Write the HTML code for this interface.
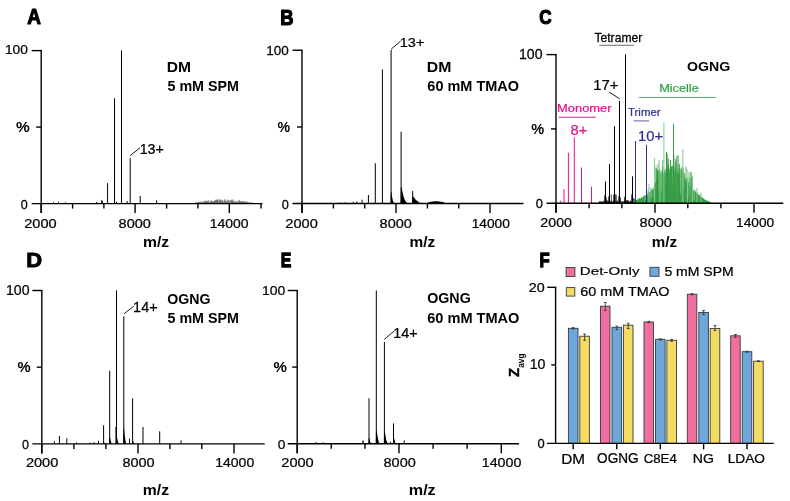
<!DOCTYPE html>
<html><head><meta charset="utf-8"><style>html,body{margin:0;padding:0;background:#fff;overflow:hidden}svg{display:block;will-change:transform}text{font-family:"Liberation Sans",sans-serif}</style></head>
<body><svg width="790" height="501" viewBox="0 0 790 501" font-family='"Liberation Sans", sans-serif'>
<rect width="790" height="501" fill="#fff"/>
<line x1="96.60" y1="202.00" x2="96.60" y2="203.60" stroke="#000" stroke-width="1.0" opacity="1"/>
<line x1="101.80" y1="199.90" x2="101.80" y2="203.60" stroke="#000" stroke-width="1.0" opacity="1"/>
<line x1="107.60" y1="183.10" x2="107.60" y2="203.60" stroke="#000" stroke-width="1.0" opacity="1"/>
<line x1="114.50" y1="98.30" x2="114.50" y2="203.60" stroke="#000" stroke-width="1.0" opacity="1"/>
<line x1="116.50" y1="201.70" x2="116.50" y2="203.60" stroke="#000" stroke-width="1.0" opacity="1"/>
<line x1="121.50" y1="50.40" x2="121.50" y2="203.60" stroke="#000" stroke-width="1.0" opacity="1"/>
<line x1="127.10" y1="201.10" x2="127.10" y2="203.60" stroke="#000" stroke-width="1.0" opacity="1"/>
<line x1="130.20" y1="158.30" x2="130.20" y2="203.60" stroke="#000" stroke-width="1.0" opacity="1"/>
<line x1="140.20" y1="196.00" x2="140.20" y2="203.60" stroke="#000" stroke-width="1.0" opacity="1"/>
<line x1="156.60" y1="200.40" x2="156.60" y2="203.60" stroke="#000" stroke-width="1.0" opacity="1"/>
<line x1="53.50" y1="202.20" x2="53.50" y2="203.60" stroke="#000" stroke-width="1.0" opacity="1"/>
<line x1="58.60" y1="201.80" x2="58.60" y2="203.60" stroke="#000" stroke-width="1.0" opacity="1"/>
<line x1="65.50" y1="202.30" x2="65.50" y2="203.60" stroke="#000" stroke-width="1.0" opacity="1"/>
<line x1="102.30" y1="201.00" x2="102.30" y2="203.60" stroke="#000" stroke-width="1.0" opacity="1"/>
<line x1="195.20" y1="202.22" x2="195.20" y2="203.60" stroke="#333" stroke-width="0.5" opacity="1"/>
<line x1="196.24" y1="202.18" x2="196.24" y2="203.60" stroke="#333" stroke-width="0.5" opacity="1"/>
<line x1="196.76" y1="202.38" x2="196.76" y2="203.60" stroke="#333" stroke-width="0.5" opacity="1"/>
<line x1="197.28" y1="202.20" x2="197.28" y2="203.60" stroke="#333" stroke-width="0.5" opacity="1"/>
<line x1="198.32" y1="202.09" x2="198.32" y2="203.60" stroke="#333" stroke-width="0.5" opacity="1"/>
<line x1="198.84" y1="201.78" x2="198.84" y2="203.60" stroke="#333" stroke-width="0.5" opacity="1"/>
<line x1="199.36" y1="202.10" x2="199.36" y2="203.60" stroke="#333" stroke-width="0.5" opacity="1"/>
<line x1="199.88" y1="201.79" x2="199.88" y2="203.60" stroke="#333" stroke-width="0.5" opacity="1"/>
<line x1="200.40" y1="201.81" x2="200.40" y2="203.60" stroke="#333" stroke-width="0.5" opacity="1"/>
<line x1="201.44" y1="201.57" x2="201.44" y2="203.60" stroke="#333" stroke-width="0.5" opacity="1"/>
<line x1="201.96" y1="201.75" x2="201.96" y2="203.60" stroke="#333" stroke-width="0.5" opacity="1"/>
<line x1="202.48" y1="202.14" x2="202.48" y2="203.60" stroke="#333" stroke-width="0.5" opacity="1"/>
<line x1="203.52" y1="201.13" x2="203.52" y2="203.60" stroke="#333" stroke-width="0.5" opacity="1"/>
<line x1="204.04" y1="201.75" x2="204.04" y2="203.60" stroke="#333" stroke-width="0.5" opacity="1"/>
<line x1="204.56" y1="201.26" x2="204.56" y2="203.60" stroke="#333" stroke-width="0.5" opacity="1"/>
<line x1="205.08" y1="200.90" x2="205.08" y2="203.60" stroke="#333" stroke-width="0.5" opacity="1"/>
<line x1="205.60" y1="201.15" x2="205.60" y2="203.60" stroke="#333" stroke-width="0.5" opacity="1"/>
<line x1="206.12" y1="200.68" x2="206.12" y2="203.60" stroke="#333" stroke-width="0.5" opacity="1"/>
<line x1="206.64" y1="201.70" x2="206.64" y2="203.60" stroke="#333" stroke-width="0.5" opacity="1"/>
<line x1="207.16" y1="200.79" x2="207.16" y2="203.60" stroke="#333" stroke-width="0.5" opacity="1"/>
<line x1="207.68" y1="201.52" x2="207.68" y2="203.60" stroke="#333" stroke-width="0.5" opacity="1"/>
<line x1="208.20" y1="200.37" x2="208.20" y2="203.60" stroke="#333" stroke-width="0.5" opacity="1"/>
<line x1="208.72" y1="200.44" x2="208.72" y2="203.60" stroke="#333" stroke-width="0.5" opacity="1"/>
<line x1="209.24" y1="202.23" x2="209.24" y2="203.60" stroke="#333" stroke-width="0.5" opacity="1"/>
<line x1="209.76" y1="202.12" x2="209.76" y2="203.60" stroke="#333" stroke-width="0.5" opacity="1"/>
<line x1="210.28" y1="201.90" x2="210.28" y2="203.60" stroke="#333" stroke-width="0.5" opacity="1"/>
<line x1="210.80" y1="199.99" x2="210.80" y2="203.60" stroke="#333" stroke-width="0.5" opacity="1"/>
<line x1="211.32" y1="201.30" x2="211.32" y2="203.60" stroke="#333" stroke-width="0.5" opacity="1"/>
<line x1="211.84" y1="200.77" x2="211.84" y2="203.60" stroke="#333" stroke-width="0.5" opacity="1"/>
<line x1="212.36" y1="201.60" x2="212.36" y2="203.60" stroke="#333" stroke-width="0.5" opacity="1"/>
<line x1="212.88" y1="201.02" x2="212.88" y2="203.60" stroke="#333" stroke-width="0.5" opacity="1"/>
<line x1="213.40" y1="201.32" x2="213.40" y2="203.60" stroke="#333" stroke-width="0.5" opacity="1"/>
<line x1="213.92" y1="201.39" x2="213.92" y2="203.60" stroke="#333" stroke-width="0.5" opacity="1"/>
<line x1="214.44" y1="200.71" x2="214.44" y2="203.60" stroke="#333" stroke-width="0.5" opacity="1"/>
<line x1="214.96" y1="200.68" x2="214.96" y2="203.60" stroke="#333" stroke-width="0.5" opacity="1"/>
<line x1="215.48" y1="199.72" x2="215.48" y2="203.60" stroke="#333" stroke-width="0.5" opacity="1"/>
<line x1="216.00" y1="200.34" x2="216.00" y2="203.60" stroke="#333" stroke-width="0.5" opacity="1"/>
<line x1="216.52" y1="199.58" x2="216.52" y2="203.60" stroke="#333" stroke-width="0.5" opacity="1"/>
<line x1="217.04" y1="199.76" x2="217.04" y2="203.60" stroke="#333" stroke-width="0.5" opacity="1"/>
<line x1="217.56" y1="199.33" x2="217.56" y2="203.60" stroke="#333" stroke-width="0.5" opacity="1"/>
<line x1="218.08" y1="200.27" x2="218.08" y2="203.60" stroke="#333" stroke-width="0.5" opacity="1"/>
<line x1="218.60" y1="201.82" x2="218.60" y2="203.60" stroke="#333" stroke-width="0.5" opacity="1"/>
<line x1="219.12" y1="199.65" x2="219.12" y2="203.60" stroke="#333" stroke-width="0.5" opacity="1"/>
<line x1="219.64" y1="199.30" x2="219.64" y2="203.60" stroke="#333" stroke-width="0.5" opacity="1"/>
<line x1="220.16" y1="199.47" x2="220.16" y2="203.60" stroke="#333" stroke-width="0.5" opacity="1"/>
<line x1="220.68" y1="200.51" x2="220.68" y2="203.60" stroke="#333" stroke-width="0.5" opacity="1"/>
<line x1="221.20" y1="200.04" x2="221.20" y2="203.60" stroke="#333" stroke-width="0.5" opacity="1"/>
<line x1="221.72" y1="201.63" x2="221.72" y2="203.60" stroke="#333" stroke-width="0.5" opacity="1"/>
<line x1="222.24" y1="199.65" x2="222.24" y2="203.60" stroke="#333" stroke-width="0.5" opacity="1"/>
<line x1="222.76" y1="200.47" x2="222.76" y2="203.60" stroke="#333" stroke-width="0.5" opacity="1"/>
<line x1="223.28" y1="201.39" x2="223.28" y2="203.60" stroke="#333" stroke-width="0.5" opacity="1"/>
<line x1="223.80" y1="202.10" x2="223.80" y2="203.60" stroke="#333" stroke-width="0.5" opacity="1"/>
<line x1="224.32" y1="199.57" x2="224.32" y2="203.60" stroke="#333" stroke-width="0.5" opacity="1"/>
<line x1="224.84" y1="199.14" x2="224.84" y2="203.60" stroke="#333" stroke-width="0.5" opacity="1"/>
<line x1="225.36" y1="202.02" x2="225.36" y2="203.60" stroke="#333" stroke-width="0.5" opacity="1"/>
<line x1="225.88" y1="199.75" x2="225.88" y2="203.60" stroke="#333" stroke-width="0.5" opacity="1"/>
<line x1="226.40" y1="201.00" x2="226.40" y2="203.60" stroke="#333" stroke-width="0.5" opacity="1"/>
<line x1="226.92" y1="201.83" x2="226.92" y2="203.60" stroke="#333" stroke-width="0.5" opacity="1"/>
<line x1="227.44" y1="201.38" x2="227.44" y2="203.60" stroke="#333" stroke-width="0.5" opacity="1"/>
<line x1="227.96" y1="199.90" x2="227.96" y2="203.60" stroke="#333" stroke-width="0.5" opacity="1"/>
<line x1="228.48" y1="199.59" x2="228.48" y2="203.60" stroke="#333" stroke-width="0.5" opacity="1"/>
<line x1="229.00" y1="202.18" x2="229.00" y2="203.60" stroke="#333" stroke-width="0.5" opacity="1"/>
<line x1="229.52" y1="200.43" x2="229.52" y2="203.60" stroke="#333" stroke-width="0.5" opacity="1"/>
<line x1="230.04" y1="202.19" x2="230.04" y2="203.60" stroke="#333" stroke-width="0.5" opacity="1"/>
<line x1="230.56" y1="200.16" x2="230.56" y2="203.60" stroke="#333" stroke-width="0.5" opacity="1"/>
<line x1="231.08" y1="201.35" x2="231.08" y2="203.60" stroke="#333" stroke-width="0.5" opacity="1"/>
<line x1="231.60" y1="199.73" x2="231.60" y2="203.60" stroke="#333" stroke-width="0.5" opacity="1"/>
<line x1="232.12" y1="199.47" x2="232.12" y2="203.60" stroke="#333" stroke-width="0.5" opacity="1"/>
<line x1="232.64" y1="200.89" x2="232.64" y2="203.60" stroke="#333" stroke-width="0.5" opacity="1"/>
<line x1="233.16" y1="199.50" x2="233.16" y2="203.60" stroke="#333" stroke-width="0.5" opacity="1"/>
<line x1="233.68" y1="201.49" x2="233.68" y2="203.60" stroke="#333" stroke-width="0.5" opacity="1"/>
<line x1="234.20" y1="202.16" x2="234.20" y2="203.60" stroke="#333" stroke-width="0.5" opacity="1"/>
<line x1="234.72" y1="200.74" x2="234.72" y2="203.60" stroke="#333" stroke-width="0.5" opacity="1"/>
<line x1="235.24" y1="202.31" x2="235.24" y2="203.60" stroke="#333" stroke-width="0.5" opacity="1"/>
<line x1="235.76" y1="201.88" x2="235.76" y2="203.60" stroke="#333" stroke-width="0.5" opacity="1"/>
<line x1="236.28" y1="201.35" x2="236.28" y2="203.60" stroke="#333" stroke-width="0.5" opacity="1"/>
<line x1="236.80" y1="200.86" x2="236.80" y2="203.60" stroke="#333" stroke-width="0.5" opacity="1"/>
<line x1="237.32" y1="202.04" x2="237.32" y2="203.60" stroke="#333" stroke-width="0.5" opacity="1"/>
<line x1="237.84" y1="202.33" x2="237.84" y2="203.60" stroke="#333" stroke-width="0.5" opacity="1"/>
<line x1="238.36" y1="200.36" x2="238.36" y2="203.60" stroke="#333" stroke-width="0.5" opacity="1"/>
<line x1="238.88" y1="201.72" x2="238.88" y2="203.60" stroke="#333" stroke-width="0.5" opacity="1"/>
<line x1="239.40" y1="200.27" x2="239.40" y2="203.60" stroke="#333" stroke-width="0.5" opacity="1"/>
<line x1="239.92" y1="200.48" x2="239.92" y2="203.60" stroke="#333" stroke-width="0.5" opacity="1"/>
<line x1="240.44" y1="201.67" x2="240.44" y2="203.60" stroke="#333" stroke-width="0.5" opacity="1"/>
<line x1="240.96" y1="201.53" x2="240.96" y2="203.60" stroke="#333" stroke-width="0.5" opacity="1"/>
<line x1="241.48" y1="201.45" x2="241.48" y2="203.60" stroke="#333" stroke-width="0.5" opacity="1"/>
<line x1="242.00" y1="201.24" x2="242.00" y2="203.60" stroke="#333" stroke-width="0.5" opacity="1"/>
<line x1="242.52" y1="201.39" x2="242.52" y2="203.60" stroke="#333" stroke-width="0.5" opacity="1"/>
<line x1="243.04" y1="201.51" x2="243.04" y2="203.60" stroke="#333" stroke-width="0.5" opacity="1"/>
<line x1="243.56" y1="201.45" x2="243.56" y2="203.60" stroke="#333" stroke-width="0.5" opacity="1"/>
<line x1="244.08" y1="200.95" x2="244.08" y2="203.60" stroke="#333" stroke-width="0.5" opacity="1"/>
<line x1="244.60" y1="201.74" x2="244.60" y2="203.60" stroke="#333" stroke-width="0.5" opacity="1"/>
<line x1="245.12" y1="201.91" x2="245.12" y2="203.60" stroke="#333" stroke-width="0.5" opacity="1"/>
<line x1="245.64" y1="201.51" x2="245.64" y2="203.60" stroke="#333" stroke-width="0.5" opacity="1"/>
<line x1="246.16" y1="202.28" x2="246.16" y2="203.60" stroke="#333" stroke-width="0.5" opacity="1"/>
<line x1="246.68" y1="202.22" x2="246.68" y2="203.60" stroke="#333" stroke-width="0.5" opacity="1"/>
<line x1="247.20" y1="201.36" x2="247.20" y2="203.60" stroke="#333" stroke-width="0.5" opacity="1"/>
<line x1="247.72" y1="202.01" x2="247.72" y2="203.60" stroke="#333" stroke-width="0.5" opacity="1"/>
<line x1="248.24" y1="202.03" x2="248.24" y2="203.60" stroke="#333" stroke-width="0.5" opacity="1"/>
<line x1="249.28" y1="202.27" x2="249.28" y2="203.60" stroke="#333" stroke-width="0.5" opacity="1"/>
<line x1="249.80" y1="202.16" x2="249.80" y2="203.60" stroke="#333" stroke-width="0.5" opacity="1"/>
<line x1="250.84" y1="202.23" x2="250.84" y2="203.60" stroke="#333" stroke-width="0.5" opacity="1"/>
<line x1="251.36" y1="202.28" x2="251.36" y2="203.60" stroke="#333" stroke-width="0.5" opacity="1"/>
<line x1="252.40" y1="202.39" x2="252.40" y2="203.60" stroke="#333" stroke-width="0.5" opacity="1"/>
<line x1="353.30" y1="201.80" x2="353.30" y2="203.50" stroke="#000" stroke-width="1.0" opacity="1"/>
<line x1="356.80" y1="201.60" x2="356.80" y2="203.50" stroke="#000" stroke-width="1.0" opacity="1"/>
<line x1="362.10" y1="199.70" x2="362.10" y2="203.50" stroke="#000" stroke-width="1.0" opacity="1"/>
<line x1="368.40" y1="195.00" x2="368.40" y2="203.50" stroke="#000" stroke-width="1.0" opacity="1"/>
<line x1="375.30" y1="163.20" x2="375.30" y2="203.50" stroke="#000" stroke-width="1.0" opacity="1"/>
<line x1="382.40" y1="69.50" x2="382.40" y2="203.50" stroke="#000" stroke-width="1.0" opacity="1"/>
<line x1="391.10" y1="50.00" x2="391.10" y2="203.50" stroke="#000" stroke-width="1.0" opacity="1"/>
<line x1="401.10" y1="131.70" x2="401.10" y2="203.50" stroke="#000" stroke-width="1.0" opacity="1"/>
<line x1="412.70" y1="191.00" x2="412.70" y2="203.50" stroke="#000" stroke-width="1.0" opacity="1"/>
<line x1="345.00" y1="202.30" x2="345.00" y2="203.50" stroke="#000" stroke-width="1.0" opacity="1"/>
<line x1="340.00" y1="202.50" x2="340.00" y2="203.50" stroke="#000" stroke-width="1.0" opacity="1"/>
<polygon points="390.60,203.50 390.80,192.00 391.40,192.00 391.70,194.33 392.00,196.34 392.30,198.06 392.60,199.49 392.90,200.67 393.20,201.60 393.50,202.32 393.80,202.84 394.10,203.19 394.40,203.39 394.70,203.48 395.00,203.50 395.00,203.50" fill="#000" opacity="1"/>
<polygon points="400.60,203.50 400.80,187.00 401.55,187.00 402.17,190.34 402.79,193.23 403.41,195.69 404.03,197.75 404.65,199.44 405.27,200.78 405.90,201.81 406.52,202.55 407.14,203.05 407.76,203.34 408.38,203.47 409.00,203.50 409.00,203.50" fill="#000" opacity="1"/>
<polygon points="412.20,203.50 412.40,196.50 413.15,196.50 414.10,197.82 415.04,198.98 415.99,199.99 416.93,200.85 417.88,201.58 418.82,202.17 419.77,202.64 420.72,203.00 421.66,203.25 422.61,203.41 423.55,203.48 424.50,203.50 424.50,203.50" fill="#000" opacity="1"/>
<polygon points="381.90,203.50 382.10,201.50 382.70,201.50 382.79,201.74 382.88,201.98 382.98,202.20 383.07,202.41 383.16,202.61 383.25,202.79 383.34,202.96 383.43,203.12 383.53,203.25 383.62,203.36 383.71,203.45 383.80,203.50 383.80,203.50" fill="#000" opacity="1"/>
<polygon points="427.00,203.50 427.00,202.90 427.90,202.46 428.80,202.20 429.70,201.98 430.60,201.80 431.50,201.64 432.40,201.52 433.30,201.42 434.20,201.36 435.10,201.31 436.00,201.30 436.90,201.31 437.80,201.36 438.70,201.42 439.60,201.52 440.50,201.64 441.40,201.80 442.30,201.98 443.20,202.20 444.10,202.46 445.00,202.90 445.00,203.50" fill="#000" opacity="1"/>
<line x1="560.40" y1="200.80" x2="560.40" y2="203.20" stroke="#E8138C" stroke-width="1.0" opacity="1"/>
<line x1="564.00" y1="189.10" x2="564.00" y2="203.20" stroke="#E8138C" stroke-width="1.0" opacity="1"/>
<line x1="568.40" y1="152.70" x2="568.40" y2="203.20" stroke="#E8138C" stroke-width="1.0" opacity="1"/>
<line x1="574.30" y1="137.20" x2="574.30" y2="203.20" stroke="#E8138C" stroke-width="1.0" opacity="1"/>
<line x1="581.50" y1="167.50" x2="581.50" y2="203.20" stroke="#E8138C" stroke-width="1.0" opacity="1"/>
<line x1="587.00" y1="202.70" x2="587.00" y2="203.20" stroke="#E8138C" stroke-width="1.0" opacity="1"/>
<line x1="591.50" y1="186.70" x2="591.50" y2="203.20" stroke="#E8138C" stroke-width="1.0" opacity="1"/>
<line x1="599.00" y1="201.75" x2="599.00" y2="203.20" stroke="#000" stroke-width="0.6" opacity="1"/>
<line x1="599.50" y1="201.38" x2="599.50" y2="203.20" stroke="#000" stroke-width="0.6" opacity="1"/>
<line x1="600.00" y1="201.13" x2="600.00" y2="203.20" stroke="#000" stroke-width="0.6" opacity="1"/>
<line x1="600.50" y1="201.62" x2="600.50" y2="203.20" stroke="#000" stroke-width="0.6" opacity="1"/>
<line x1="601.00" y1="201.54" x2="601.00" y2="203.20" stroke="#000" stroke-width="0.6" opacity="1"/>
<line x1="601.50" y1="201.64" x2="601.50" y2="203.20" stroke="#000" stroke-width="0.6" opacity="1"/>
<line x1="602.00" y1="201.54" x2="602.00" y2="203.20" stroke="#000" stroke-width="0.6" opacity="1"/>
<line x1="602.50" y1="201.13" x2="602.50" y2="203.20" stroke="#000" stroke-width="0.6" opacity="1"/>
<line x1="603.00" y1="201.66" x2="603.00" y2="203.20" stroke="#000" stroke-width="0.6" opacity="1"/>
<line x1="603.50" y1="201.52" x2="603.50" y2="203.20" stroke="#000" stroke-width="0.6" opacity="1"/>
<line x1="604.00" y1="200.81" x2="604.00" y2="203.20" stroke="#000" stroke-width="0.6" opacity="1"/>
<line x1="604.50" y1="202.15" x2="604.50" y2="203.20" stroke="#000" stroke-width="0.6" opacity="1"/>
<line x1="605.00" y1="201.18" x2="605.00" y2="203.20" stroke="#000" stroke-width="0.6" opacity="1"/>
<line x1="605.50" y1="200.88" x2="605.50" y2="203.20" stroke="#000" stroke-width="0.6" opacity="1"/>
<line x1="606.00" y1="201.64" x2="606.00" y2="203.20" stroke="#000" stroke-width="0.6" opacity="1"/>
<line x1="606.50" y1="201.80" x2="606.50" y2="203.20" stroke="#000" stroke-width="0.6" opacity="1"/>
<line x1="607.00" y1="200.75" x2="607.00" y2="203.20" stroke="#000" stroke-width="0.6" opacity="1"/>
<line x1="607.50" y1="201.77" x2="607.50" y2="203.20" stroke="#000" stroke-width="0.6" opacity="1"/>
<line x1="608.00" y1="201.86" x2="608.00" y2="203.20" stroke="#000" stroke-width="0.6" opacity="1"/>
<line x1="608.50" y1="201.42" x2="608.50" y2="203.20" stroke="#000" stroke-width="0.6" opacity="1"/>
<line x1="609.00" y1="200.94" x2="609.00" y2="203.20" stroke="#000" stroke-width="0.6" opacity="1"/>
<line x1="609.50" y1="202.02" x2="609.50" y2="203.20" stroke="#000" stroke-width="0.6" opacity="1"/>
<line x1="610.00" y1="201.62" x2="610.00" y2="203.20" stroke="#000" stroke-width="0.6" opacity="1"/>
<line x1="610.50" y1="201.60" x2="610.50" y2="203.20" stroke="#000" stroke-width="0.6" opacity="1"/>
<line x1="611.00" y1="200.70" x2="611.00" y2="203.20" stroke="#000" stroke-width="0.6" opacity="1"/>
<line x1="611.50" y1="201.41" x2="611.50" y2="203.20" stroke="#000" stroke-width="0.6" opacity="1"/>
<line x1="612.00" y1="200.66" x2="612.00" y2="203.20" stroke="#000" stroke-width="0.6" opacity="1"/>
<line x1="612.50" y1="201.90" x2="612.50" y2="203.20" stroke="#000" stroke-width="0.6" opacity="1"/>
<line x1="613.00" y1="201.59" x2="613.00" y2="203.20" stroke="#000" stroke-width="0.6" opacity="1"/>
<line x1="613.50" y1="201.03" x2="613.50" y2="203.20" stroke="#000" stroke-width="0.6" opacity="1"/>
<line x1="614.00" y1="200.61" x2="614.00" y2="203.20" stroke="#000" stroke-width="0.6" opacity="1"/>
<line x1="614.50" y1="201.39" x2="614.50" y2="203.20" stroke="#000" stroke-width="0.6" opacity="1"/>
<line x1="615.00" y1="201.79" x2="615.00" y2="203.20" stroke="#000" stroke-width="0.6" opacity="1"/>
<line x1="615.50" y1="201.98" x2="615.50" y2="203.20" stroke="#000" stroke-width="0.6" opacity="1"/>
<line x1="616.00" y1="201.25" x2="616.00" y2="203.20" stroke="#000" stroke-width="0.6" opacity="1"/>
<line x1="616.50" y1="201.86" x2="616.50" y2="203.20" stroke="#000" stroke-width="0.6" opacity="1"/>
<line x1="617.00" y1="200.75" x2="617.00" y2="203.20" stroke="#000" stroke-width="0.6" opacity="1"/>
<line x1="617.50" y1="200.69" x2="617.50" y2="203.20" stroke="#000" stroke-width="0.6" opacity="1"/>
<line x1="618.00" y1="201.87" x2="618.00" y2="203.20" stroke="#000" stroke-width="0.6" opacity="1"/>
<line x1="618.50" y1="201.70" x2="618.50" y2="203.20" stroke="#000" stroke-width="0.6" opacity="1"/>
<line x1="619.00" y1="200.75" x2="619.00" y2="203.20" stroke="#000" stroke-width="0.6" opacity="1"/>
<line x1="619.50" y1="201.04" x2="619.50" y2="203.20" stroke="#000" stroke-width="0.6" opacity="1"/>
<line x1="620.00" y1="200.75" x2="620.00" y2="203.20" stroke="#000" stroke-width="0.6" opacity="1"/>
<line x1="620.50" y1="201.58" x2="620.50" y2="203.20" stroke="#000" stroke-width="0.6" opacity="1"/>
<line x1="621.00" y1="201.97" x2="621.00" y2="203.20" stroke="#000" stroke-width="0.6" opacity="1"/>
<line x1="621.50" y1="201.67" x2="621.50" y2="203.20" stroke="#000" stroke-width="0.6" opacity="1"/>
<line x1="622.00" y1="200.77" x2="622.00" y2="203.20" stroke="#000" stroke-width="0.6" opacity="1"/>
<line x1="622.50" y1="201.71" x2="622.50" y2="203.20" stroke="#000" stroke-width="0.6" opacity="1"/>
<line x1="623.00" y1="201.58" x2="623.00" y2="203.20" stroke="#000" stroke-width="0.6" opacity="1"/>
<line x1="623.50" y1="201.45" x2="623.50" y2="203.20" stroke="#000" stroke-width="0.6" opacity="1"/>
<line x1="624.00" y1="201.44" x2="624.00" y2="203.20" stroke="#000" stroke-width="0.6" opacity="1"/>
<line x1="624.50" y1="201.46" x2="624.50" y2="203.20" stroke="#000" stroke-width="0.6" opacity="1"/>
<line x1="625.00" y1="200.54" x2="625.00" y2="203.20" stroke="#000" stroke-width="0.6" opacity="1"/>
<line x1="625.50" y1="201.92" x2="625.50" y2="203.20" stroke="#000" stroke-width="0.6" opacity="1"/>
<line x1="626.00" y1="202.19" x2="626.00" y2="203.20" stroke="#000" stroke-width="0.6" opacity="1"/>
<line x1="626.50" y1="200.50" x2="626.50" y2="203.20" stroke="#000" stroke-width="0.6" opacity="1"/>
<line x1="627.00" y1="200.62" x2="627.00" y2="203.20" stroke="#000" stroke-width="0.6" opacity="1"/>
<line x1="627.50" y1="200.42" x2="627.50" y2="203.20" stroke="#000" stroke-width="0.6" opacity="1"/>
<line x1="628.00" y1="201.42" x2="628.00" y2="203.20" stroke="#000" stroke-width="0.6" opacity="1"/>
<line x1="628.50" y1="200.49" x2="628.50" y2="203.20" stroke="#000" stroke-width="0.6" opacity="1"/>
<line x1="629.00" y1="200.53" x2="629.00" y2="203.20" stroke="#000" stroke-width="0.6" opacity="1"/>
<line x1="629.50" y1="201.80" x2="629.50" y2="203.20" stroke="#000" stroke-width="0.6" opacity="1"/>
<line x1="630.00" y1="200.86" x2="630.00" y2="203.20" stroke="#000" stroke-width="0.6" opacity="1"/>
<line x1="630.50" y1="200.69" x2="630.50" y2="203.20" stroke="#000" stroke-width="0.6" opacity="1"/>
<line x1="631.00" y1="201.01" x2="631.00" y2="203.20" stroke="#000" stroke-width="0.6" opacity="1"/>
<line x1="631.50" y1="201.27" x2="631.50" y2="203.20" stroke="#000" stroke-width="0.6" opacity="1"/>
<line x1="632.00" y1="201.68" x2="632.00" y2="203.20" stroke="#000" stroke-width="0.6" opacity="1"/>
<line x1="632.50" y1="201.59" x2="632.50" y2="203.20" stroke="#000" stroke-width="0.6" opacity="1"/>
<line x1="633.00" y1="201.79" x2="633.00" y2="203.20" stroke="#000" stroke-width="0.6" opacity="1"/>
<line x1="633.50" y1="202.08" x2="633.50" y2="203.20" stroke="#000" stroke-width="0.6" opacity="1"/>
<line x1="605.50" y1="181.40" x2="605.50" y2="203.20" stroke="#000" stroke-width="1.0" opacity="1"/>
<line x1="606.30" y1="197.40" x2="606.30" y2="203.20" stroke="#000" stroke-width="0.7" opacity="1"/>
<line x1="607.20" y1="200.12" x2="607.20" y2="203.20" stroke="#000" stroke-width="0.7" opacity="1"/>
<line x1="604.50" y1="195.41" x2="604.50" y2="203.20" stroke="#000" stroke-width="0.7" opacity="1"/>
<line x1="609.50" y1="164.00" x2="609.50" y2="203.20" stroke="#000" stroke-width="1.0" opacity="1"/>
<line x1="610.40" y1="202.29" x2="610.40" y2="203.20" stroke="#000" stroke-width="0.7" opacity="1"/>
<line x1="611.30" y1="194.57" x2="611.30" y2="203.20" stroke="#000" stroke-width="0.7" opacity="1"/>
<line x1="608.60" y1="196.46" x2="608.60" y2="203.20" stroke="#000" stroke-width="0.7" opacity="1"/>
<line x1="614.50" y1="126.20" x2="614.50" y2="203.20" stroke="#000" stroke-width="1.0" opacity="1"/>
<line x1="615.40" y1="194.39" x2="615.40" y2="203.20" stroke="#000" stroke-width="0.7" opacity="1"/>
<line x1="616.30" y1="194.63" x2="616.30" y2="203.20" stroke="#000" stroke-width="0.7" opacity="1"/>
<line x1="613.60" y1="194.60" x2="613.60" y2="203.20" stroke="#000" stroke-width="0.7" opacity="1"/>
<line x1="619.50" y1="100.80" x2="619.50" y2="203.20" stroke="#000" stroke-width="1.0" opacity="1"/>
<line x1="620.50" y1="197.51" x2="620.50" y2="203.20" stroke="#000" stroke-width="0.7" opacity="1"/>
<line x1="621.40" y1="202.58" x2="621.40" y2="203.20" stroke="#000" stroke-width="0.7" opacity="1"/>
<line x1="618.70" y1="195.99" x2="618.70" y2="203.20" stroke="#000" stroke-width="0.7" opacity="1"/>
<line x1="625.50" y1="54.30" x2="625.50" y2="203.20" stroke="#000" stroke-width="1.0" opacity="1"/>
<line x1="626.30" y1="201.15" x2="626.30" y2="203.20" stroke="#000" stroke-width="0.7" opacity="1"/>
<line x1="627.20" y1="200.00" x2="627.20" y2="203.20" stroke="#000" stroke-width="0.7" opacity="1"/>
<line x1="624.50" y1="196.73" x2="624.50" y2="203.20" stroke="#000" stroke-width="0.7" opacity="1"/>
<line x1="632.50" y1="176.30" x2="632.50" y2="203.20" stroke="#000" stroke-width="1.0" opacity="1"/>
<line x1="633.40" y1="197.98" x2="633.40" y2="203.20" stroke="#000" stroke-width="0.7" opacity="1"/>
<line x1="634.30" y1="198.98" x2="634.30" y2="203.20" stroke="#000" stroke-width="0.7" opacity="1"/>
<line x1="631.60" y1="194.25" x2="631.60" y2="203.20" stroke="#000" stroke-width="0.7" opacity="1"/>
<polygon points="633.00,203.20 633.00,203.20 633.50,201.91 634.00,200.70 634.50,200.07 635.00,200.27 635.50,199.86 636.00,200.14 636.50,200.12 637.00,199.59 637.50,199.08 638.00,199.64 638.50,198.70 639.00,198.33 639.50,198.27 640.00,198.04 640.50,198.93 641.00,197.67 641.50,196.95 642.00,198.05 642.50,197.37 643.00,197.08 643.50,196.26 644.00,196.17 644.50,195.69 645.00,194.59 645.50,196.12 646.00,195.66 646.50,195.14 647.00,194.81 647.50,194.65 648.00,191.55 648.50,191.43 649.00,193.50 649.50,191.68 650.00,191.91 650.50,191.50 651.00,190.95 651.50,189.35 652.00,189.14 652.50,189.19 653.00,189.11 653.50,187.59 654.00,187.79 654.50,184.61 655.00,182.76 655.50,182.52 656.00,182.49 656.50,179.75 657.00,176.07 657.50,173.60 658.00,171.52 658.50,174.57 659.00,170.27 659.50,171.37 660.00,172.64 660.50,173.35 661.00,172.37 661.50,170.63 662.00,173.39 662.50,171.06 663.00,173.35 663.50,174.54 664.00,170.99 664.50,168.59 665.00,173.98 665.50,169.61 666.00,168.78 666.50,163.81 667.00,163.01 667.50,168.85 668.00,163.05 668.50,164.02 669.00,169.58 669.50,167.88 670.00,171.98 670.50,165.24 671.00,167.33 671.50,165.58 672.00,167.09 672.50,167.63 673.00,166.25 673.50,167.33 674.00,171.60 674.50,165.70 675.00,171.53 675.50,170.42 676.00,164.02 676.50,172.38 677.00,172.31 677.50,172.67 678.00,165.10 678.50,172.74 679.00,174.75 679.50,167.15 680.00,174.66 680.50,168.23 681.00,170.38 681.50,169.59 682.00,169.28 682.50,173.31 683.00,172.11 683.50,179.21 684.00,173.82 684.50,176.74 685.00,176.02 685.50,181.41 686.00,177.55 686.50,177.16 687.00,183.92 687.50,182.80 688.00,181.93 688.50,181.01 689.00,185.18 689.50,186.15 690.00,186.37 690.50,185.06 691.00,185.05 691.50,187.52 692.00,188.28 692.50,188.79 693.00,189.64 693.50,189.84 694.00,191.65 694.50,190.50 695.00,189.27 695.50,191.81 696.00,191.17 696.50,193.59 697.00,192.42 697.50,192.75 698.00,193.52 698.50,194.46 699.00,195.04 699.50,195.08 700.00,194.96 700.50,196.98 701.00,197.46 701.50,196.63 702.00,196.79 702.50,197.78 703.00,198.21 703.50,198.12 704.00,199.17 704.50,199.35 705.00,199.72 705.50,199.60 706.00,200.18 706.50,200.49 707.00,200.35 707.50,200.42 708.00,201.13 708.50,201.13 709.00,201.54 709.50,201.60 710.00,201.97 710.50,202.27 711.00,202.47 711.50,202.69 712.00,202.80 712.50,203.01 713.00,203.20 713.00,203.20" fill="#3A9F4B" opacity="1"/>
<line x1="661.63" y1="171.25" x2="661.63" y2="193.20" stroke="#86C98E" stroke-width="0.6" opacity="0.9"/>
<line x1="648.62" y1="188.50" x2="648.62" y2="196.43" stroke="#86C98E" stroke-width="0.6" opacity="0.9"/>
<line x1="675.94" y1="165.07" x2="675.94" y2="192.42" stroke="#86C98E" stroke-width="0.6" opacity="0.9"/>
<line x1="689.30" y1="181.83" x2="689.30" y2="193.39" stroke="#86C98E" stroke-width="0.6" opacity="0.9"/>
<line x1="683.24" y1="171.56" x2="683.24" y2="187.39" stroke="#86C98E" stroke-width="0.6" opacity="0.9"/>
<line x1="684.02" y1="172.18" x2="684.02" y2="188.74" stroke="#86C98E" stroke-width="0.6" opacity="0.9"/>
<line x1="653.78" y1="185.30" x2="653.78" y2="197.09" stroke="#86C98E" stroke-width="0.6" opacity="0.9"/>
<line x1="680.52" y1="167.69" x2="680.52" y2="193.50" stroke="#86C98E" stroke-width="0.6" opacity="0.9"/>
<line x1="654.53" y1="184.11" x2="654.53" y2="192.31" stroke="#86C98E" stroke-width="0.6" opacity="0.9"/>
<line x1="651.23" y1="187.35" x2="651.23" y2="198.91" stroke="#86C98E" stroke-width="0.6" opacity="0.9"/>
<line x1="693.99" y1="188.97" x2="693.99" y2="199.39" stroke="#86C98E" stroke-width="0.6" opacity="0.9"/>
<line x1="658.81" y1="171.50" x2="658.81" y2="192.56" stroke="#86C98E" stroke-width="0.6" opacity="0.9"/>
<line x1="645.16" y1="194.76" x2="645.16" y2="200.81" stroke="#86C98E" stroke-width="0.6" opacity="0.9"/>
<line x1="657.51" y1="173.07" x2="657.51" y2="190.85" stroke="#86C98E" stroke-width="0.6" opacity="0.9"/>
<line x1="680.53" y1="171.50" x2="680.53" y2="186.32" stroke="#86C98E" stroke-width="0.6" opacity="0.9"/>
<line x1="666.17" y1="166.00" x2="666.17" y2="181.07" stroke="#86C98E" stroke-width="0.6" opacity="0.9"/>
<line x1="675.11" y1="162.28" x2="675.11" y2="182.56" stroke="#86C98E" stroke-width="0.6" opacity="0.9"/>
<line x1="672.66" y1="168.64" x2="672.66" y2="183.76" stroke="#86C98E" stroke-width="0.6" opacity="0.9"/>
<line x1="679.93" y1="170.48" x2="679.93" y2="194.81" stroke="#86C98E" stroke-width="0.6" opacity="0.9"/>
<line x1="694.53" y1="190.14" x2="694.53" y2="200.20" stroke="#86C98E" stroke-width="0.6" opacity="0.9"/>
<line x1="662.45" y1="169.73" x2="662.45" y2="192.44" stroke="#86C98E" stroke-width="0.6" opacity="0.9"/>
<line x1="657.73" y1="171.56" x2="657.73" y2="191.40" stroke="#86C98E" stroke-width="0.6" opacity="0.9"/>
<line x1="688.36" y1="181.76" x2="688.36" y2="196.28" stroke="#86C98E" stroke-width="0.6" opacity="0.9"/>
<line x1="697.68" y1="190.99" x2="697.68" y2="197.93" stroke="#86C98E" stroke-width="0.6" opacity="0.9"/>
<line x1="646.80" y1="191.93" x2="646.80" y2="197.29" stroke="#86C98E" stroke-width="0.6" opacity="0.9"/>
<line x1="683.09" y1="172.07" x2="683.09" y2="190.22" stroke="#86C98E" stroke-width="0.6" opacity="0.9"/>
<line x1="650.92" y1="187.86" x2="650.92" y2="197.30" stroke="#86C98E" stroke-width="0.6" opacity="0.9"/>
<line x1="650.75" y1="187.04" x2="650.75" y2="197.18" stroke="#86C98E" stroke-width="0.6" opacity="0.9"/>
<line x1="647.39" y1="189.73" x2="647.39" y2="194.72" stroke="#86C98E" stroke-width="0.6" opacity="0.9"/>
<line x1="659.89" y1="169.23" x2="659.89" y2="189.57" stroke="#86C98E" stroke-width="0.6" opacity="0.9"/>
<line x1="673.30" y1="165.68" x2="673.30" y2="185.52" stroke="#86C98E" stroke-width="0.6" opacity="0.9"/>
<line x1="658.75" y1="172.55" x2="658.75" y2="182.79" stroke="#86C98E" stroke-width="0.6" opacity="0.9"/>
<line x1="682.95" y1="171.58" x2="682.95" y2="189.65" stroke="#86C98E" stroke-width="0.6" opacity="0.9"/>
<line x1="684.38" y1="175.19" x2="684.38" y2="187.32" stroke="#86C98E" stroke-width="0.6" opacity="0.9"/>
<line x1="663.00" y1="169.51" x2="663.00" y2="180.32" stroke="#86C98E" stroke-width="0.6" opacity="0.9"/>
<line x1="670.28" y1="167.29" x2="670.28" y2="191.87" stroke="#86C98E" stroke-width="0.6" opacity="0.9"/>
<line x1="661.25" y1="171.08" x2="661.25" y2="187.20" stroke="#86C98E" stroke-width="0.6" opacity="0.9"/>
<line x1="672.49" y1="166.26" x2="672.49" y2="183.86" stroke="#86C98E" stroke-width="0.6" opacity="0.9"/>
<line x1="690.81" y1="185.64" x2="690.81" y2="193.28" stroke="#86C98E" stroke-width="0.6" opacity="0.9"/>
<line x1="645.98" y1="194.07" x2="645.98" y2="200.36" stroke="#86C98E" stroke-width="0.6" opacity="0.9"/>
<line x1="682.64" y1="168.78" x2="682.64" y2="203.20" stroke="#3A9F4B" stroke-width="0.7" opacity="1"/>
<line x1="676.55" y1="155.84" x2="676.55" y2="203.20" stroke="#5DB46A" stroke-width="0.7" opacity="1"/>
<line x1="686.00" y1="166.60" x2="686.00" y2="203.20" stroke="#2F9744" stroke-width="0.7" opacity="1"/>
<line x1="678.10" y1="154.93" x2="678.10" y2="203.20" stroke="#3A9F4B" stroke-width="0.7" opacity="1"/>
<line x1="675.70" y1="161.49" x2="675.70" y2="203.20" stroke="#3A9F4B" stroke-width="0.7" opacity="1"/>
<line x1="662.68" y1="166.64" x2="662.68" y2="203.20" stroke="#5DB46A" stroke-width="0.7" opacity="1"/>
<line x1="656.14" y1="165.41" x2="656.14" y2="203.20" stroke="#5DB46A" stroke-width="0.7" opacity="1"/>
<line x1="691.07" y1="178.45" x2="691.07" y2="203.20" stroke="#2F9744" stroke-width="0.7" opacity="1"/>
<line x1="689.43" y1="177.22" x2="689.43" y2="203.20" stroke="#5DB46A" stroke-width="0.7" opacity="1"/>
<line x1="692.13" y1="175.91" x2="692.13" y2="203.20" stroke="#5DB46A" stroke-width="0.7" opacity="1"/>
<line x1="689.04" y1="172.04" x2="689.04" y2="203.20" stroke="#3A9F4B" stroke-width="0.7" opacity="1"/>
<line x1="677.85" y1="156.40" x2="677.85" y2="203.20" stroke="#3A9F4B" stroke-width="0.7" opacity="1"/>
<line x1="659.08" y1="160.09" x2="659.08" y2="203.20" stroke="#3A9F4B" stroke-width="0.7" opacity="1"/>
<line x1="673.69" y1="157.94" x2="673.69" y2="203.20" stroke="#5DB46A" stroke-width="0.7" opacity="1"/>
<line x1="662.56" y1="159.68" x2="662.56" y2="203.20" stroke="#3A9F4B" stroke-width="0.7" opacity="1"/>
<line x1="656.41" y1="168.16" x2="656.41" y2="203.20" stroke="#2F9744" stroke-width="0.7" opacity="1"/>
<line x1="690.98" y1="181.85" x2="690.98" y2="203.20" stroke="#5DB46A" stroke-width="0.7" opacity="1"/>
<line x1="691.44" y1="172.33" x2="691.44" y2="203.20" stroke="#3A9F4B" stroke-width="0.7" opacity="1"/>
<line x1="672.76" y1="164.84" x2="672.76" y2="203.20" stroke="#3A9F4B" stroke-width="0.7" opacity="1"/>
<line x1="655.97" y1="168.60" x2="655.97" y2="203.20" stroke="#2F9744" stroke-width="0.7" opacity="1"/>
<line x1="657.96" y1="164.04" x2="657.96" y2="203.20" stroke="#5DB46A" stroke-width="0.7" opacity="1"/>
<line x1="667.28" y1="153.26" x2="667.28" y2="203.20" stroke="#2F9744" stroke-width="0.7" opacity="1"/>
<line x1="681.35" y1="168.42" x2="681.35" y2="203.20" stroke="#2F9744" stroke-width="0.7" opacity="1"/>
<line x1="684.46" y1="173.33" x2="684.46" y2="203.20" stroke="#3A9F4B" stroke-width="0.7" opacity="1"/>
<line x1="683.11" y1="167.35" x2="683.11" y2="203.20" stroke="#3A9F4B" stroke-width="0.7" opacity="1"/>
<line x1="690.41" y1="171.34" x2="690.41" y2="203.20" stroke="#5DB46A" stroke-width="0.7" opacity="1"/>
<line x1="681.56" y1="166.88" x2="681.56" y2="203.20" stroke="#5DB46A" stroke-width="0.7" opacity="1"/>
<line x1="659.15" y1="169.30" x2="659.15" y2="203.20" stroke="#3A9F4B" stroke-width="0.7" opacity="1"/>
<line x1="687.12" y1="168.98" x2="687.12" y2="203.20" stroke="#5DB46A" stroke-width="0.7" opacity="1"/>
<line x1="673.89" y1="155.39" x2="673.89" y2="203.20" stroke="#2F9744" stroke-width="0.7" opacity="1"/>
<line x1="654.60" y1="157.90" x2="654.60" y2="203.20" stroke="#86C98E" stroke-width="1.0" opacity="1"/>
<line x1="663.90" y1="122.40" x2="663.90" y2="203.20" stroke="#86C98E" stroke-width="1.0" opacity="1"/>
<line x1="682.90" y1="148.90" x2="682.90" y2="203.20" stroke="#86C98E" stroke-width="1.0" opacity="1"/>
<line x1="692.50" y1="175.90" x2="692.50" y2="203.20" stroke="#86C98E" stroke-width="1.0" opacity="1"/>
<line x1="660.00" y1="169.90" x2="660.00" y2="203.20" stroke="#86C98E" stroke-width="1.0" opacity="1"/>
<line x1="649.00" y1="184.00" x2="649.00" y2="203.20" stroke="#86C98E" stroke-width="1.0" opacity="1"/>
<line x1="646.50" y1="188.00" x2="646.50" y2="203.20" stroke="#86C98E" stroke-width="1.0" opacity="1"/>
<line x1="687.50" y1="178.00" x2="687.50" y2="203.20" stroke="#86C98E" stroke-width="1.0" opacity="1"/>
<line x1="697.00" y1="188.00" x2="697.00" y2="203.20" stroke="#86C98E" stroke-width="1.0" opacity="1"/>
<line x1="701.00" y1="192.50" x2="701.00" y2="203.20" stroke="#86C98E" stroke-width="1.0" opacity="1"/>
<line x1="666.50" y1="151.90" x2="666.50" y2="203.20" stroke="#34993F" stroke-width="1.0" opacity="1"/>
<line x1="673.50" y1="124.00" x2="673.50" y2="203.20" stroke="#34993F" stroke-width="1.0" opacity="1"/>
<line x1="675.90" y1="158.90" x2="675.90" y2="203.20" stroke="#34993F" stroke-width="1.0" opacity="1"/>
<line x1="670.40" y1="160.00" x2="670.40" y2="203.20" stroke="#34993F" stroke-width="1.0" opacity="1"/>
<line x1="668.20" y1="158.00" x2="668.20" y2="203.20" stroke="#34993F" stroke-width="1.0" opacity="1"/>
<line x1="657.50" y1="170.00" x2="657.50" y2="203.20" stroke="#34993F" stroke-width="1.0" opacity="1"/>
<line x1="679.30" y1="164.00" x2="679.30" y2="203.20" stroke="#34993F" stroke-width="1.0" opacity="1"/>
<line x1="635.50" y1="141.00" x2="635.50" y2="203.20" stroke="#2E3192" stroke-width="1.0" opacity="1"/>
<line x1="646.50" y1="144.80" x2="646.50" y2="203.20" stroke="#2E3192" stroke-width="1.0" opacity="1"/>
<line x1="54.40" y1="441.30" x2="54.40" y2="443.90" stroke="#000" stroke-width="1.0" opacity="1"/>
<line x1="59.40" y1="436.00" x2="59.40" y2="443.90" stroke="#000" stroke-width="1.0" opacity="1"/>
<line x1="66.80" y1="438.30" x2="66.80" y2="443.90" stroke="#000" stroke-width="1.0" opacity="1"/>
<line x1="76.60" y1="442.50" x2="76.60" y2="443.90" stroke="#000" stroke-width="1.0" opacity="1"/>
<line x1="98.50" y1="440.80" x2="98.50" y2="443.90" stroke="#000" stroke-width="1.0" opacity="1"/>
<line x1="103.60" y1="425.20" x2="103.60" y2="443.90" stroke="#000" stroke-width="1.0" opacity="1"/>
<line x1="109.70" y1="370.80" x2="109.70" y2="443.90" stroke="#000" stroke-width="1.0" opacity="1"/>
<line x1="116.50" y1="290.40" x2="116.50" y2="443.90" stroke="#000" stroke-width="1.0" opacity="1"/>
<line x1="123.80" y1="316.40" x2="123.80" y2="443.90" stroke="#000" stroke-width="1.0" opacity="1"/>
<line x1="129.50" y1="438.70" x2="129.50" y2="443.90" stroke="#000" stroke-width="1.0" opacity="1"/>
<line x1="132.60" y1="398.30" x2="132.60" y2="443.90" stroke="#000" stroke-width="1.0" opacity="1"/>
<line x1="143.00" y1="427.00" x2="143.00" y2="443.90" stroke="#000" stroke-width="1.0" opacity="1"/>
<line x1="159.70" y1="431.30" x2="159.70" y2="443.90" stroke="#000" stroke-width="1.0" opacity="1"/>
<line x1="181.00" y1="440.40" x2="181.00" y2="443.90" stroke="#000" stroke-width="1.0" opacity="1"/>
<line x1="90.00" y1="442.60" x2="90.00" y2="443.90" stroke="#000" stroke-width="1.0" opacity="1"/>
<line x1="94.00" y1="442.20" x2="94.00" y2="443.90" stroke="#000" stroke-width="1.0" opacity="1"/>
<polygon points="109.20,443.90 109.40,437.00 110.00,437.00 110.17,437.90 110.33,438.75 110.50,439.55 110.67,440.29 110.83,440.99 111.00,441.62 111.17,442.20 111.33,442.71 111.50,443.15 111.67,443.51 111.83,443.77 112.00,443.90 112.00,443.90" fill="#000" opacity="1"/>
<polygon points="115.90,443.90 116.10,436.00 116.80,436.00 116.98,437.03 117.17,438.00 117.35,438.91 117.53,439.77 117.72,440.57 117.90,441.29 118.08,441.95 118.27,442.54 118.45,443.04 118.63,443.45 118.82,443.75 119.00,443.90 119.00,443.90" fill="#000" opacity="1"/>
<line x1="115.80" y1="427.00" x2="115.80" y2="443.90" stroke="#000" stroke-width="0.8" opacity="1"/>
<polygon points="123.20,443.90 123.40,429.00 124.15,429.00 124.35,431.16 124.54,433.17 124.74,435.02 124.93,436.72 125.13,438.25 125.33,439.62 125.52,440.82 125.72,441.84 125.91,442.67 126.11,443.31 126.30,443.73 126.50,443.90 126.50,443.90" fill="#000" opacity="1"/>
<polygon points="132.10,443.90 132.30,440.00 132.90,440.00 133.01,440.48 133.12,440.93 133.22,441.37 133.33,441.78 133.44,442.16 133.55,442.52 133.66,442.85 133.77,443.15 133.88,443.41 133.98,443.63 134.09,443.81 134.20,443.90 134.20,443.90" fill="#000" opacity="1"/>
<polygon points="103.10,443.90 103.30,441.50 103.90,441.50 103.99,441.79 104.08,442.07 104.17,442.34 104.27,442.59 104.36,442.83 104.45,443.05 104.54,443.25 104.63,443.44 104.72,443.60 104.82,443.74 104.91,443.84 105.00,443.90 105.00,443.90" fill="#000" opacity="1"/>
<line x1="316.00" y1="442.00" x2="316.00" y2="443.70" stroke="#000" stroke-width="1.0" opacity="1"/>
<line x1="323.00" y1="442.30" x2="323.00" y2="443.70" stroke="#000" stroke-width="1.0" opacity="1"/>
<line x1="363.00" y1="440.40" x2="363.00" y2="443.70" stroke="#000" stroke-width="1.0" opacity="1"/>
<line x1="369.00" y1="398.20" x2="369.00" y2="443.70" stroke="#000" stroke-width="1.0" opacity="1"/>
<line x1="376.30" y1="290.40" x2="376.30" y2="443.70" stroke="#000" stroke-width="1.0" opacity="1"/>
<line x1="384.40" y1="342.00" x2="384.40" y2="443.70" stroke="#000" stroke-width="1.0" opacity="1"/>
<line x1="390.40" y1="441.50" x2="390.40" y2="443.70" stroke="#000" stroke-width="1.0" opacity="1"/>
<line x1="393.50" y1="423.40" x2="393.50" y2="443.70" stroke="#000" stroke-width="1.0" opacity="1"/>
<line x1="404.20" y1="440.40" x2="404.20" y2="443.70" stroke="#000" stroke-width="1.0" opacity="1"/>
<polygon points="368.50,443.70 368.70,438.00 369.30,438.00 369.46,438.74 369.62,439.44 369.78,440.10 369.93,440.72 370.09,441.29 370.25,441.82 370.41,442.30 370.57,442.72 370.73,443.08 370.88,443.38 371.04,443.59 371.20,443.70 371.20,443.70" fill="#000" opacity="1"/>
<polygon points="375.80,443.70 376.00,431.00 376.75,431.00 377.00,432.84 377.26,434.55 377.51,436.13 377.77,437.58 378.02,438.89 378.27,440.05 378.53,441.07 378.78,441.94 379.04,442.65 379.29,443.20 379.55,443.56 379.80,443.70 379.80,443.70" fill="#000" opacity="1"/>
<polygon points="383.90,443.70 384.10,431.70 384.85,431.70 385.11,433.44 385.37,435.06 385.64,436.55 385.90,437.92 386.16,439.15 386.42,440.25 386.69,441.22 386.95,442.04 387.21,442.71 387.47,443.22 387.74,443.56 388.00,443.70 388.00,443.70" fill="#000" opacity="1"/>
<polygon points="393.00,443.70 393.20,436.60 393.80,436.60 393.98,437.52 394.17,438.40 394.35,439.22 394.53,439.99 394.72,440.70 394.90,441.36 395.08,441.95 395.27,442.48 395.45,442.93 395.63,443.30 395.82,443.57 396.00,443.70 396.00,443.70" fill="#000" opacity="1"/>
<polygon points="362.50,443.70 362.70,441.50 363.30,441.50 363.36,441.77 363.42,442.03 363.48,442.27 363.53,442.50 363.59,442.72 363.65,442.92 363.71,443.11 363.77,443.28 363.82,443.43 363.88,443.55 363.94,443.65 364.00,443.70 364.00,443.70" fill="#000" opacity="1"/>
<rect x="568.40" y="328.30" width="9.60" height="115.10" fill="#6EA7DA" stroke="#3a3a3a" stroke-width="0.9"/>
<line x1="573.20" y1="327.60" x2="573.20" y2="329.00" stroke="#3a3a3a" stroke-width="0.9"/>
<line x1="571.80" y1="327.60" x2="574.60" y2="327.60" stroke="#3a3a3a" stroke-width="0.9"/>
<line x1="571.80" y1="329.00" x2="574.60" y2="329.00" stroke="#3a3a3a" stroke-width="0.9"/>
<rect x="579.80" y="336.20" width="9.60" height="107.20" fill="#F4DC62" stroke="#3a3a3a" stroke-width="0.9"/>
<line x1="584.60" y1="334.00" x2="584.60" y2="340.30" stroke="#3a3a3a" stroke-width="0.9"/>
<line x1="583.20" y1="334.00" x2="586.00" y2="334.00" stroke="#3a3a3a" stroke-width="0.9"/>
<line x1="583.20" y1="340.30" x2="586.00" y2="340.30" stroke="#3a3a3a" stroke-width="0.9"/>
<rect x="600.50" y="306.20" width="9.50" height="137.20" fill="#F06EA0" stroke="#3a3a3a" stroke-width="0.9"/>
<line x1="605.25" y1="302.50" x2="605.25" y2="310.50" stroke="#3a3a3a" stroke-width="0.9"/>
<line x1="603.85" y1="302.50" x2="606.65" y2="302.50" stroke="#3a3a3a" stroke-width="0.9"/>
<line x1="603.85" y1="310.50" x2="606.65" y2="310.50" stroke="#3a3a3a" stroke-width="0.9"/>
<rect x="612.00" y="327.30" width="9.60" height="116.10" fill="#6EA7DA" stroke="#3a3a3a" stroke-width="0.9"/>
<line x1="616.80" y1="326.20" x2="616.80" y2="329.50" stroke="#3a3a3a" stroke-width="0.9"/>
<line x1="615.40" y1="326.20" x2="618.20" y2="326.20" stroke="#3a3a3a" stroke-width="0.9"/>
<line x1="615.40" y1="329.50" x2="618.20" y2="329.50" stroke="#3a3a3a" stroke-width="0.9"/>
<rect x="623.40" y="325.20" width="9.60" height="118.20" fill="#F4DC62" stroke="#3a3a3a" stroke-width="0.9"/>
<line x1="628.20" y1="323.30" x2="628.20" y2="328.50" stroke="#3a3a3a" stroke-width="0.9"/>
<line x1="626.80" y1="323.30" x2="629.60" y2="323.30" stroke="#3a3a3a" stroke-width="0.9"/>
<line x1="626.80" y1="328.50" x2="629.60" y2="328.50" stroke="#3a3a3a" stroke-width="0.9"/>
<rect x="644.00" y="322.00" width="9.50" height="121.40" fill="#F06EA0" stroke="#3a3a3a" stroke-width="0.9"/>
<line x1="648.75" y1="321.30" x2="648.75" y2="322.60" stroke="#3a3a3a" stroke-width="0.9"/>
<line x1="647.35" y1="321.30" x2="650.15" y2="321.30" stroke="#3a3a3a" stroke-width="0.9"/>
<line x1="647.35" y1="322.60" x2="650.15" y2="322.60" stroke="#3a3a3a" stroke-width="0.9"/>
<rect x="655.50" y="339.30" width="9.60" height="104.10" fill="#6EA7DA" stroke="#3a3a3a" stroke-width="0.9"/>
<line x1="660.30" y1="338.80" x2="660.30" y2="339.90" stroke="#3a3a3a" stroke-width="0.9"/>
<line x1="658.90" y1="338.80" x2="661.70" y2="338.80" stroke="#3a3a3a" stroke-width="0.9"/>
<line x1="658.90" y1="339.90" x2="661.70" y2="339.90" stroke="#3a3a3a" stroke-width="0.9"/>
<rect x="666.90" y="340.30" width="9.60" height="103.10" fill="#F4DC62" stroke="#3a3a3a" stroke-width="0.9"/>
<line x1="671.70" y1="339.30" x2="671.70" y2="341.20" stroke="#3a3a3a" stroke-width="0.9"/>
<line x1="670.30" y1="339.30" x2="673.10" y2="339.30" stroke="#3a3a3a" stroke-width="0.9"/>
<line x1="670.30" y1="341.20" x2="673.10" y2="341.20" stroke="#3a3a3a" stroke-width="0.9"/>
<rect x="687.30" y="294.20" width="9.50" height="149.20" fill="#F06EA0" stroke="#3a3a3a" stroke-width="0.9"/>
<line x1="692.05" y1="293.60" x2="692.05" y2="294.80" stroke="#3a3a3a" stroke-width="0.9"/>
<line x1="690.65" y1="293.60" x2="693.45" y2="293.60" stroke="#3a3a3a" stroke-width="0.9"/>
<line x1="690.65" y1="294.80" x2="693.45" y2="294.80" stroke="#3a3a3a" stroke-width="0.9"/>
<rect x="698.80" y="312.50" width="9.60" height="130.90" fill="#6EA7DA" stroke="#3a3a3a" stroke-width="0.9"/>
<line x1="703.60" y1="310.40" x2="703.60" y2="314.70" stroke="#3a3a3a" stroke-width="0.9"/>
<line x1="702.20" y1="310.40" x2="705.00" y2="310.40" stroke="#3a3a3a" stroke-width="0.9"/>
<line x1="702.20" y1="314.70" x2="705.00" y2="314.70" stroke="#3a3a3a" stroke-width="0.9"/>
<rect x="710.20" y="328.50" width="9.60" height="114.90" fill="#F4DC62" stroke="#3a3a3a" stroke-width="0.9"/>
<line x1="715.00" y1="325.40" x2="715.00" y2="330.50" stroke="#3a3a3a" stroke-width="0.9"/>
<line x1="713.60" y1="325.40" x2="716.40" y2="325.40" stroke="#3a3a3a" stroke-width="0.9"/>
<line x1="713.60" y1="330.50" x2="716.40" y2="330.50" stroke="#3a3a3a" stroke-width="0.9"/>
<rect x="730.70" y="335.80" width="9.50" height="107.60" fill="#F06EA0" stroke="#3a3a3a" stroke-width="0.9"/>
<line x1="735.45" y1="334.50" x2="735.45" y2="337.50" stroke="#3a3a3a" stroke-width="0.9"/>
<line x1="734.05" y1="334.50" x2="736.85" y2="334.50" stroke="#3a3a3a" stroke-width="0.9"/>
<line x1="734.05" y1="337.50" x2="736.85" y2="337.50" stroke="#3a3a3a" stroke-width="0.9"/>
<rect x="742.20" y="351.70" width="9.60" height="91.70" fill="#6EA7DA" stroke="#3a3a3a" stroke-width="0.9"/>
<line x1="747.00" y1="351.20" x2="747.00" y2="352.20" stroke="#3a3a3a" stroke-width="0.9"/>
<line x1="745.60" y1="351.20" x2="748.40" y2="351.20" stroke="#3a3a3a" stroke-width="0.9"/>
<line x1="745.60" y1="352.20" x2="748.40" y2="352.20" stroke="#3a3a3a" stroke-width="0.9"/>
<rect x="753.60" y="361.20" width="9.60" height="82.20" fill="#F4DC62" stroke="#3a3a3a" stroke-width="0.9"/>
<line x1="758.40" y1="360.80" x2="758.40" y2="361.60" stroke="#3a3a3a" stroke-width="0.9"/>
<line x1="757.00" y1="360.80" x2="759.80" y2="360.80" stroke="#3a3a3a" stroke-width="0.9"/>
<line x1="757.00" y1="361.60" x2="759.80" y2="361.60" stroke="#3a3a3a" stroke-width="0.9"/>
<rect x="566.10" y="267.50" width="8.80" height="9.00" fill="#F06EA0" stroke="#3a3a3a" stroke-width="0.9"/>
<rect x="649.90" y="267.30" width="9.10" height="9.00" fill="#6EA7DA" stroke="#3a3a3a" stroke-width="0.9"/>
<rect x="566.30" y="287.60" width="8.50" height="8.50" fill="#F4DC62" stroke="#3a3a3a" stroke-width="0.9"/>
<line x1="41.20" y1="50.60" x2="41.20" y2="213.10" stroke="#000" stroke-width="1.4"/>
<line x1="31.70" y1="50.60" x2="41.90" y2="50.60" stroke="#000" stroke-width="1.4"/>
<line x1="36.20" y1="127.10" x2="41.20" y2="127.10" stroke="#000" stroke-width="1.4"/>
<line x1="31.70" y1="203.60" x2="262.50" y2="203.60" stroke="#000" stroke-width="1.4"/>
<line x1="41.20" y1="203.60" x2="41.20" y2="213.10" stroke="#000" stroke-width="1.4"/>
<line x1="72.60" y1="203.60" x2="72.60" y2="208.60" stroke="#000" stroke-width="1.4"/>
<line x1="103.90" y1="203.60" x2="103.90" y2="208.60" stroke="#000" stroke-width="1.4"/>
<line x1="135.10" y1="203.60" x2="135.10" y2="213.10" stroke="#000" stroke-width="1.4"/>
<line x1="166.60" y1="203.60" x2="166.60" y2="208.60" stroke="#000" stroke-width="1.4"/>
<line x1="197.90" y1="203.60" x2="197.90" y2="208.60" stroke="#000" stroke-width="1.4"/>
<line x1="229.30" y1="203.60" x2="229.30" y2="213.10" stroke="#000" stroke-width="1.4"/>
<line x1="261.00" y1="203.60" x2="261.00" y2="208.60" stroke="#000" stroke-width="1.4"/>
<line x1="302.00" y1="50.20" x2="302.00" y2="213.00" stroke="#000" stroke-width="1.4"/>
<line x1="292.50" y1="50.20" x2="302.70" y2="50.20" stroke="#000" stroke-width="1.4"/>
<line x1="297.00" y1="127.00" x2="302.00" y2="127.00" stroke="#000" stroke-width="1.4"/>
<line x1="292.50" y1="203.50" x2="523.50" y2="203.50" stroke="#000" stroke-width="1.4"/>
<line x1="302.00" y1="203.50" x2="302.00" y2="213.00" stroke="#000" stroke-width="1.4"/>
<line x1="333.40" y1="203.50" x2="333.40" y2="208.50" stroke="#000" stroke-width="1.4"/>
<line x1="364.70" y1="203.50" x2="364.70" y2="208.50" stroke="#000" stroke-width="1.4"/>
<line x1="396.00" y1="203.50" x2="396.00" y2="213.00" stroke="#000" stroke-width="1.4"/>
<line x1="427.40" y1="203.50" x2="427.40" y2="208.50" stroke="#000" stroke-width="1.4"/>
<line x1="458.80" y1="203.50" x2="458.80" y2="208.50" stroke="#000" stroke-width="1.4"/>
<line x1="490.00" y1="203.50" x2="490.00" y2="213.00" stroke="#000" stroke-width="1.4"/>
<line x1="556.00" y1="54.60" x2="556.00" y2="212.70" stroke="#000" stroke-width="1.4"/>
<line x1="546.50" y1="54.60" x2="556.70" y2="54.60" stroke="#000" stroke-width="1.4"/>
<line x1="551.00" y1="128.90" x2="556.00" y2="128.90" stroke="#000" stroke-width="1.4"/>
<line x1="546.50" y1="203.20" x2="783.30" y2="203.20" stroke="#000" stroke-width="1.4"/>
<line x1="556.00" y1="203.20" x2="556.00" y2="212.70" stroke="#000" stroke-width="1.4"/>
<line x1="589.10" y1="203.20" x2="589.10" y2="208.20" stroke="#000" stroke-width="1.4"/>
<line x1="621.90" y1="203.20" x2="621.90" y2="208.20" stroke="#000" stroke-width="1.4"/>
<line x1="655.00" y1="203.20" x2="655.00" y2="212.70" stroke="#000" stroke-width="1.4"/>
<line x1="687.80" y1="203.20" x2="687.80" y2="208.20" stroke="#000" stroke-width="1.4"/>
<line x1="720.90" y1="203.20" x2="720.90" y2="208.20" stroke="#000" stroke-width="1.4"/>
<line x1="754.00" y1="203.20" x2="754.00" y2="212.70" stroke="#000" stroke-width="1.4"/>
<line x1="41.80" y1="290.50" x2="41.80" y2="453.40" stroke="#000" stroke-width="1.4"/>
<line x1="32.30" y1="290.50" x2="42.50" y2="290.50" stroke="#000" stroke-width="1.4"/>
<line x1="36.80" y1="367.20" x2="41.80" y2="367.20" stroke="#000" stroke-width="1.4"/>
<line x1="32.30" y1="443.90" x2="264.70" y2="443.90" stroke="#000" stroke-width="1.4"/>
<line x1="41.80" y1="443.90" x2="41.80" y2="453.40" stroke="#000" stroke-width="1.4"/>
<line x1="73.90" y1="443.90" x2="73.90" y2="448.90" stroke="#000" stroke-width="1.4"/>
<line x1="105.90" y1="443.90" x2="105.90" y2="448.90" stroke="#000" stroke-width="1.4"/>
<line x1="138.00" y1="443.90" x2="138.00" y2="453.40" stroke="#000" stroke-width="1.4"/>
<line x1="169.90" y1="443.90" x2="169.90" y2="448.90" stroke="#000" stroke-width="1.4"/>
<line x1="201.80" y1="443.90" x2="201.80" y2="448.90" stroke="#000" stroke-width="1.4"/>
<line x1="234.00" y1="443.90" x2="234.00" y2="453.40" stroke="#000" stroke-width="1.4"/>
<line x1="297.20" y1="290.50" x2="297.20" y2="453.20" stroke="#000" stroke-width="1.4"/>
<line x1="287.70" y1="290.50" x2="297.90" y2="290.50" stroke="#000" stroke-width="1.4"/>
<line x1="292.20" y1="367.10" x2="297.20" y2="367.10" stroke="#000" stroke-width="1.4"/>
<line x1="287.70" y1="443.70" x2="519.00" y2="443.70" stroke="#000" stroke-width="1.4"/>
<line x1="297.20" y1="443.70" x2="297.20" y2="453.20" stroke="#000" stroke-width="1.4"/>
<line x1="331.20" y1="443.70" x2="331.20" y2="448.70" stroke="#000" stroke-width="1.4"/>
<line x1="365.00" y1="443.70" x2="365.00" y2="448.70" stroke="#000" stroke-width="1.4"/>
<line x1="399.00" y1="443.70" x2="399.00" y2="453.20" stroke="#000" stroke-width="1.4"/>
<line x1="433.10" y1="443.70" x2="433.10" y2="448.70" stroke="#000" stroke-width="1.4"/>
<line x1="467.10" y1="443.70" x2="467.10" y2="448.70" stroke="#000" stroke-width="1.4"/>
<line x1="501.30" y1="443.70" x2="501.30" y2="453.20" stroke="#000" stroke-width="1.4"/>
<line x1="555.60" y1="287.30" x2="555.60" y2="443.40" stroke="#000" stroke-width="1.4"/>
<line x1="547.20" y1="287.30" x2="556.30" y2="287.30" stroke="#000" stroke-width="1.4"/>
<line x1="551.30" y1="364.90" x2="555.60" y2="364.90" stroke="#000" stroke-width="1.4"/>
<line x1="547.00" y1="443.40" x2="773.70" y2="443.40" stroke="#000" stroke-width="1.4"/>
<line x1="573.20" y1="443.40" x2="573.20" y2="449.30" stroke="#000" stroke-width="1.4"/>
<line x1="616.80" y1="443.40" x2="616.80" y2="449.30" stroke="#000" stroke-width="1.4"/>
<line x1="660.30" y1="443.40" x2="660.30" y2="449.30" stroke="#000" stroke-width="1.4"/>
<line x1="703.60" y1="443.40" x2="703.60" y2="449.30" stroke="#000" stroke-width="1.4"/>
<line x1="747.00" y1="443.40" x2="747.00" y2="449.30" stroke="#000" stroke-width="1.4"/>
<line x1="130.20" y1="155.60" x2="140.20" y2="147.70" stroke="#000" stroke-width="0.9"/>
<line x1="391.10" y1="49.20" x2="400.60" y2="41.20" stroke="#000" stroke-width="0.9"/>
<line x1="609.20" y1="92.10" x2="619.60" y2="98.80" stroke="#000" stroke-width="0.9"/>
<line x1="124.00" y1="313.90" x2="133.90" y2="306.00" stroke="#000" stroke-width="0.9"/>
<line x1="384.20" y1="339.40" x2="394.10" y2="331.10" stroke="#000" stroke-width="0.9"/>
<line x1="599.30" y1="45.40" x2="633.90" y2="45.40" stroke="#8a8a8a" stroke-width="1.1"/>
<line x1="558.60" y1="117.30" x2="595.60" y2="117.30" stroke="#E8138C" stroke-width="1.1"/>
<line x1="633.50" y1="120.90" x2="649.20" y2="120.90" stroke="#6a6fb0" stroke-width="1.1"/>
<line x1="638.70" y1="97.50" x2="715.90" y2="97.50" stroke="#5DB86A" stroke-width="1.1"/>
<text transform="translate(27.20,24.30) scale(0.8805,1)" font-size="21.48" font-weight="700" fill="#000" stroke="#000" stroke-width="1.14" stroke-linejoin="round">A</text>
<text transform="translate(280.35,24.60) scale(0.8625,1)" font-size="21.33" font-weight="700" fill="#000" stroke="#000" stroke-width="1.16" stroke-linejoin="round">B</text>
<text transform="translate(539.27,24.27) scale(0.8202,1)" font-size="20.87" font-weight="700" fill="#000" stroke="#000" stroke-width="1.22" stroke-linejoin="round">C</text>
<text transform="translate(26.33,267.00) scale(1.0703,1)" font-size="20.48" font-weight="700" fill="#000" stroke="#000" stroke-width="0.93" stroke-linejoin="round">D</text>
<text transform="translate(280.71,267.00) scale(0.7560,1)" font-size="21.05" font-weight="700" fill="#000" stroke="#000" stroke-width="1.32" stroke-linejoin="round">E</text>
<text transform="translate(539.46,267.00) scale(0.7924,1)" font-size="21.05" font-weight="700" fill="#000" stroke="#000" stroke-width="1.26" stroke-linejoin="round">F</text>
<text transform="translate(4.97,54.47) scale(1.0246,1)" font-size="13.43" font-weight="400" fill="#000" stroke="#000" stroke-width="0.24" stroke-linejoin="round">100</text>
<text transform="translate(20.63,208.67) scale(0.9507,1)" font-size="13.15" font-weight="400" fill="#000" stroke="#000" stroke-width="0.26" stroke-linejoin="round">0</text>
<text transform="translate(266.28,54.57) scale(1.0163,1)" font-size="13.29" font-weight="400" fill="#000" stroke="#000" stroke-width="0.25" stroke-linejoin="round">100</text>
<text transform="translate(281.73,208.67) scale(0.9659,1)" font-size="13.15" font-weight="400" fill="#000" stroke="#000" stroke-width="0.26" stroke-linejoin="round">0</text>
<text transform="translate(519.05,59.06) scale(1.0166,1)" font-size="13.84" font-weight="400" fill="#000" stroke="#000" stroke-width="0.25" stroke-linejoin="round">100</text>
<text transform="translate(535.72,207.97) scale(0.9709,1)" font-size="13.29" font-weight="400" fill="#000" stroke="#000" stroke-width="0.26" stroke-linejoin="round">0</text>
<text transform="translate(5.94,295.46) scale(1.0211,1)" font-size="13.84" font-weight="400" fill="#000" stroke="#000" stroke-width="0.24" stroke-linejoin="round">100</text>
<text transform="translate(21.93,448.97) scale(0.9713,1)" font-size="12.87" font-weight="400" fill="#000" stroke="#000" stroke-width="0.26" stroke-linejoin="round">0</text>
<text transform="translate(262.05,295.26) scale(1.0281,1)" font-size="13.57" font-weight="400" fill="#000" stroke="#000" stroke-width="0.24" stroke-linejoin="round">100</text>
<text transform="translate(277.70,448.67) scale(1.0420,1)" font-size="13.15" font-weight="400" fill="#000" stroke="#000" stroke-width="0.24" stroke-linejoin="round">0</text>
<text transform="translate(528.85,292.36) scale(1.0484,1)" font-size="13.70" font-weight="400" fill="#000" stroke="#000" stroke-width="0.24" stroke-linejoin="round">20</text>
<text transform="translate(529.64,369.25) scale(1.0053,1)" font-size="14.12" font-weight="400" fill="#000" stroke="#000" stroke-width="0.25" stroke-linejoin="round">10</text>
<text transform="translate(537.42,448.16) scale(0.9510,1)" font-size="13.57" font-weight="400" fill="#000" stroke="#000" stroke-width="0.26" stroke-linejoin="round">0</text>
<text transform="translate(15.96,131.57) scale(1.0494,1)" font-size="14.75" font-weight="700" fill="#000">%</text>
<text transform="translate(277.58,131.77) scale(0.9536,1)" font-size="14.89" font-weight="700" fill="#000">%</text>
<text transform="translate(531.27,134.28) scale(1.0150,1)" font-size="14.33" font-weight="700" fill="#000">%</text>
<text transform="translate(17.57,371.97) scale(1.0213,1)" font-size="14.47" font-weight="700" fill="#000">%</text>
<text transform="translate(273.56,371.77) scale(1.0355,1)" font-size="14.61" font-weight="700" fill="#000">%</text>
<text transform="translate(24.19,227.87) scale(1.0881,1)" font-size="13.43" font-weight="400" fill="#000" stroke="#000" stroke-width="0.23" stroke-linejoin="round">2000</text>
<text transform="translate(118.62,227.57) scale(1.0916,1)" font-size="13.29" font-weight="400" fill="#000" stroke="#000" stroke-width="0.23" stroke-linejoin="round">8000</text>
<text transform="translate(209.85,227.87) scale(1.0493,1)" font-size="13.29" font-weight="400" fill="#000" stroke="#000" stroke-width="0.24" stroke-linejoin="round">14000</text>
<text transform="translate(285.34,227.77) scale(1.1111,1)" font-size="13.15" font-weight="400" fill="#000" stroke="#000" stroke-width="0.23" stroke-linejoin="round">2000</text>
<text transform="translate(379.62,227.66) scale(1.0692,1)" font-size="13.57" font-weight="400" fill="#000" stroke="#000" stroke-width="0.23" stroke-linejoin="round">8000</text>
<text transform="translate(471.67,227.77) scale(1.0434,1)" font-size="13.15" font-weight="400" fill="#000" stroke="#000" stroke-width="0.24" stroke-linejoin="round">14000</text>
<text transform="translate(540.36,227.07) scale(1.0680,1)" font-size="13.29" font-weight="400" fill="#000" stroke="#000" stroke-width="0.23" stroke-linejoin="round">2000</text>
<text transform="translate(639.62,226.96) scale(1.0692,1)" font-size="13.57" font-weight="400" fill="#000" stroke="#000" stroke-width="0.23" stroke-linejoin="round">8000</text>
<text transform="translate(736.07,226.97) scale(1.0218,1)" font-size="13.43" font-weight="400" fill="#000" stroke="#000" stroke-width="0.24" stroke-linejoin="round">14000</text>
<text transform="translate(25.89,467.17) scale(1.1111,1)" font-size="13.15" font-weight="400" fill="#000" stroke="#000" stroke-width="0.23" stroke-linejoin="round">2000</text>
<text transform="translate(122.42,467.16) scale(1.0583,1)" font-size="13.70" font-weight="400" fill="#000" stroke="#000" stroke-width="0.24" stroke-linejoin="round">8000</text>
<text transform="translate(215.25,467.17) scale(1.0660,1)" font-size="13.15" font-weight="400" fill="#000" stroke="#000" stroke-width="0.23" stroke-linejoin="round">14000</text>
<text transform="translate(281.29,467.17) scale(1.1111,1)" font-size="13.15" font-weight="400" fill="#000" stroke="#000" stroke-width="0.23" stroke-linejoin="round">2000</text>
<text transform="translate(383.52,467.16) scale(1.0583,1)" font-size="13.70" font-weight="400" fill="#000" stroke="#000" stroke-width="0.24" stroke-linejoin="round">8000</text>
<text transform="translate(481.74,467.27) scale(1.0716,1)" font-size="13.29" font-weight="400" fill="#000" stroke="#000" stroke-width="0.23" stroke-linejoin="round">14000</text>
<text transform="translate(143.12,247.32) scale(1.0232,1)" font-size="15.28" font-weight="700" fill="#000">m/z</text>
<text transform="translate(409.43,247.14) scale(1.0465,1)" font-size="14.76" font-weight="700" fill="#000">m/z</text>
<text transform="translate(651.75,247.32) scale(0.9941,1)" font-size="15.28" font-weight="700" fill="#000">m/z</text>
<text transform="translate(142.81,494.82) scale(1.0315,1)" font-size="15.28" font-weight="700" fill="#000">m/z</text>
<text transform="translate(408.79,494.82) scale(1.0565,1)" font-size="15.28" font-weight="700" fill="#000">m/z</text>
<text transform="translate(166.72,71.80) scale(1.0764,1)" font-size="14.51" font-weight="700" fill="#000">DM</text>
<text transform="translate(167.48,90.87) scale(0.9612,1)" font-size="14.89" font-weight="700" fill="#000">5 mM SPM</text>
<text transform="translate(426.81,71.80) scale(1.0908,1)" font-size="14.51" font-weight="700" fill="#000">DM</text>
<text transform="translate(427.35,90.87) scale(0.9731,1)" font-size="14.89" font-weight="700" fill="#000">60 mM TMAO</text>
<text transform="translate(687.06,71.39) scale(1.0470,1)" font-size="13.50" font-weight="700" fill="#000">OGNG</text>
<text transform="translate(167.26,303.78) scale(1.0079,1)" font-size="14.05" font-weight="700" fill="#000">OGNG</text>
<text transform="translate(167.48,322.78) scale(0.9986,1)" font-size="14.33" font-weight="700" fill="#000">5 mM SPM</text>
<text transform="translate(427.26,303.48) scale(1.0127,1)" font-size="14.05" font-weight="700" fill="#000">OGNG</text>
<text transform="translate(427.24,322.68) scale(1.0587,1)" font-size="13.77" font-weight="700" fill="#000">60 mM TMAO</text>
<text transform="translate(139.63,154.35) scale(0.9991,1)" font-size="14.26" font-weight="400" fill="#000" stroke="#000" stroke-width="0.25" stroke-linejoin="round">13+</text>
<text transform="translate(399.71,46.67) scale(1.1194,1)" font-size="13.01" font-weight="400" fill="#000" stroke="#000" stroke-width="0.22" stroke-linejoin="round">13+</text>
<text transform="translate(593.20,89.58) scale(1.0304,1)" font-size="14.44" font-weight="400" fill="#000" stroke="#000" stroke-width="0.24" stroke-linejoin="round">17+</text>
<text transform="translate(570.47,134.65) scale(1.0406,1)" font-size="14.12" font-weight="400" fill="#E8138C" stroke="#E8138C" stroke-width="0.24" stroke-linejoin="round">8+</text>
<text transform="translate(638.00,140.96) scale(1.0548,1)" font-size="13.98" font-weight="400" fill="#2E3192" stroke="#2E3192" stroke-width="0.24" stroke-linejoin="round">10+</text>
<text transform="translate(133.12,312.27) scale(0.9621,1)" font-size="15.00" font-weight="400" fill="#000" stroke="#000" stroke-width="0.26" stroke-linejoin="round">14+</text>
<text transform="translate(393.33,337.68) scale(0.9957,1)" font-size="14.44" font-weight="400" fill="#000" stroke="#000" stroke-width="0.25" stroke-linejoin="round">14+</text>
<text transform="translate(594.44,41.98) scale(0.9642,1)" font-size="12.59" font-weight="400" fill="#000" stroke="#000" stroke-width="0.26" stroke-linejoin="round">Tetramer</text>
<text transform="translate(557.01,112.09) scale(1.1132,1)" font-size="11.62" font-weight="400" fill="#E8138C" stroke="#E8138C" stroke-width="0.22" stroke-linejoin="round">Monomer</text>
<text transform="translate(627.95,116.30) scale(1.0056,1)" font-size="11.40" font-weight="400" fill="#2E3192" stroke="#2E3192" stroke-width="0.25" stroke-linejoin="round">Trimer</text>
<text transform="translate(659.13,92.31) scale(1.1729,1)" font-size="10.87" font-weight="400" fill="#2F9F47" stroke="#2F9F47" stroke-width="0.21" stroke-linejoin="round">Micelle</text>
<text transform="translate(579.84,274.80) scale(1.3919,1)" font-size="10.86" font-weight="400" fill="#000" stroke="#000" stroke-width="0.18" stroke-linejoin="round">Det-Only</text>
<text transform="translate(664.39,275.97) scale(1.0911,1)" font-size="12.87" font-weight="400" fill="#000" stroke="#000" stroke-width="0.23" stroke-linejoin="round">5 mM SPM</text>
<text transform="translate(580.35,295.66) scale(1.0597,1)" font-size="13.57" font-weight="400" fill="#000" stroke="#000" stroke-width="0.24" stroke-linejoin="round">60 mM TMAO</text>
<text transform="translate(561.33,463.68) scale(1.0803,1)" font-size="14.15" font-weight="400" fill="#000" stroke="#000" stroke-width="0.23" stroke-linejoin="round">DM</text>
<text transform="translate(597.09,463.46) scale(0.9836,1)" font-size="13.84" font-weight="400" fill="#000" stroke="#000" stroke-width="0.25" stroke-linejoin="round">OGNG</text>
<text transform="translate(643.70,463.47) scale(0.9959,1)" font-size="13.29" font-weight="400" fill="#000" stroke="#000" stroke-width="0.25" stroke-linejoin="round">C8E4</text>
<text transform="translate(692.83,463.47) scale(1.0587,1)" font-size="13.29" font-weight="400" fill="#000" stroke="#000" stroke-width="0.24" stroke-linejoin="round">NG</text>
<text transform="translate(727.65,463.47) scale(1.0342,1)" font-size="13.29" font-weight="400" fill="#000" stroke="#000" stroke-width="0.24" stroke-linejoin="round">LDAO</text>
<g transform="translate(519.0,377.0) rotate(-90)"><text x="0" y="0" font-size="14.6" font-weight="700" fill="#000" stroke="#000" stroke-width="0.4">Z</text><text x="9.2" y="4.6" font-size="8.3" font-weight="700" fill="#000">avg</text></g>
</svg></body></html>
